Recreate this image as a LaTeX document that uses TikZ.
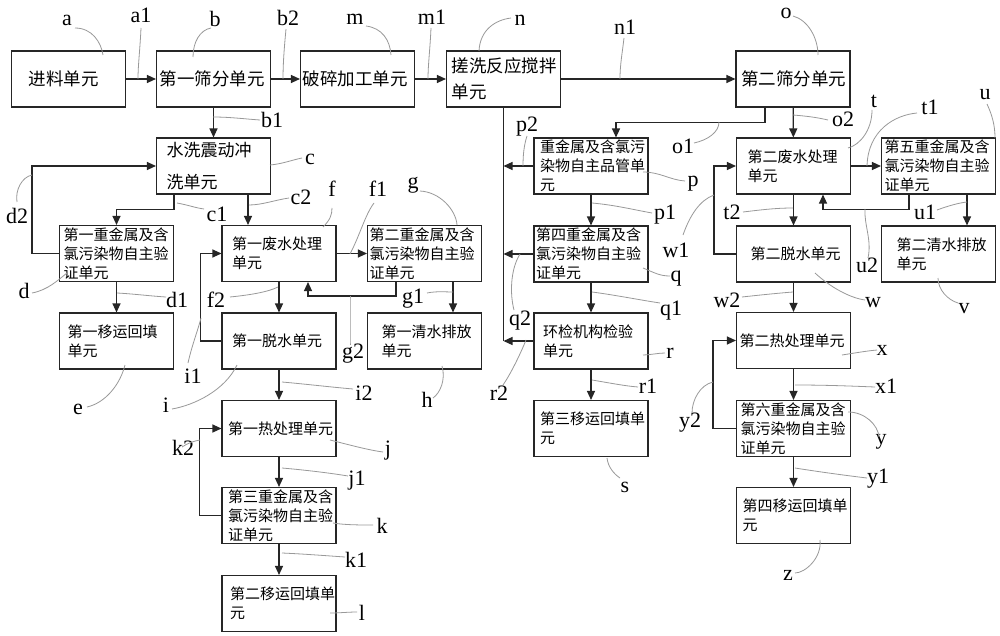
\documentclass[tikz,border=0pt]{standalone}
\usepackage{fontspec}
\setmainfont{Liberation Serif}
\newfontfamily\cjk{Noto Sans CJK SC}
\usetikzlibrary{arrows.meta}
\tikzset{
  ub/.style={draw=black!85, line width=1.1pt, minimum width=114pt, minimum height=56pt,
    inner ysep=0pt, align=left, font=\cjk\fontsize{15}{19}\selectfont},
  big/.style={font=\cjk\fontsize{17.5}{26}\selectfont},
  arr/.style={draw=black!85, line width=1.2pt, -{Triangle[length=9pt,width=8pt]}},
  ln/.style={draw=black!85, line width=1.2pt},
  lab/.style={font=\fontsize{22}{22}\selectfont, anchor=base, inner sep=0pt},
  lead/.style={draw=black!40, line width=0.8pt},
}
\begin{document}
\begin{tikzpicture}[x=1pt,y=-1pt]
\useasboundingbox (0,0) rectangle (1000,636);
\fill[white] (0,0) rectangle (1000,636);
% ---------- boxes ----------
\node[ub,big,inner xsep=17pt,text width=80pt] (a) at (68.5,79) {进料单元};
\node[ub,big,inner xsep=3pt,text width=108pt] (b) at (213.5,79) {第一筛分单元};
\node[ub,big,inner xsep=2pt,text width=110pt] (m) at (357.5,79) {破碎加工单元};
\node[ub,big,inner xsep=5pt,text width=104pt] (n) at (503.5,79) {搓洗反应搅拌\\单元};
\node[ub,big,inner xsep=5pt,text width=104pt] (o) at (793,79) {第二筛分单元};
\node[ub,inner xsep=10pt,text width=94pt,font=\cjk\fontsize{17}{32}\selectfont] (c) at (213.5,166) {水洗震动冲\\洗单元};
\node[ub,inner xsep=4pt,text width=106pt] (d) at (116.5,253.5) {第一重金属及含\\氯污染物自主验\\证单元};
\node[ub,inner xsep=8pt,text width=98pt] (e) at (116.5,341) {第一移运回填\\单元};
\node[ub,inner xsep=10pt,text width=94pt] (f) at (279,253.5) {第一废水处理\\单元};
\node[ub,inner xsep=2pt,text width=110pt] (g) at (424.5,253.5) {第二重金属及含\\氯污染物自主验\\证单元};
\node[ub,inner xsep=10pt,text width=94pt] (i) at (279,341) {第一脱水单元};
\node[ub,inner xsep=14pt,text width=86pt] (h) at (424.5,341) {第一清水排放\\单元};
\node[ub,inner xsep=6pt,text width=102pt] (j) at (279,428.5) {第一热处理单元};
\node[ub,inner xsep=6pt,text width=102pt] (k) at (279,515.5) {第三重金属及含\\氯污染物自主验\\证单元};
\node[ub,inner xsep=8pt,text width=98pt] (l) at (279,603.5) {第二移运回填单\\元};
\node[ub,inner xsep=6pt,text width=102pt] (p) at (591,166) {重金属及含氯污\\染物自主品管单\\元};
\node[ub,inner xsep=2pt,text width=110pt] (q) at (591,254) {第四重金属及含\\氯污染物自主验\\证单元};
\node[ub,inner xsep=9pt,text width=96pt] (r) at (591,341) {环检机构检验\\单元};
\node[ub,inner xsep=6pt,text width=102pt] (s) at (591,428.5) {第三移运回填单\\元};
\node[ub,inner xsep=11pt,text width=92pt] (t) at (793.5,166) {第二废水处理\\单元};
\node[ub,inner xsep=3pt,text width=108pt] (u) at (938.5,166) {第五重金属及含\\氯污染物自主验\\证单元};
\node[ub,inner xsep=14pt,text width=86pt] (w) at (793.5,254) {第二脱水单元};
\node[ub,inner xsep=15pt,text width=84pt] (v) at (938.5,254) {第二清水排放\\单元};
\node[ub,inner xsep=3pt,text width=108pt] (x) at (793.5,340.5) {第二热处理单元};
\node[ub,inner xsep=4pt,text width=106pt] (y) at (793.5,428.5) {第六重金属及含\\氯污染物自主验\\证单元};
\node[ub,inner xsep=6pt,text width=102pt] (z) at (793.5,515.5) {第四移运回填单\\元};
% ---------- helper x coordinates ----------
\coordinate (cdx) at (174,0);
\coordinate (cfx) at (248,0);
\coordinate (ghx) at (453,0);
\coordinate (g2x) at (396,0);
\coordinate (f2x) at (308,0);
\coordinate (o1x) at (765,0);
\coordinate (p1x) at (616,0);
\coordinate (uvx) at (967,0);
\coordinate (u2x) at (909,0);
\coordinate (t2x) at (823,0);
% ---------- connectors ----------
\draw[arr] (a) -- (b);
\draw[arr] (b) -- (m);
\draw[arr] (m) -- (n);
\draw[arr] (n) -- (o);
\draw[arr] (b) -- (c);
\draw[arr] (c.south -| cdx) -- ++(0,15) -| (d.north);
\draw[arr] (c.south -| cfx) -- (f.north -| cfx);
\draw[arr] (d.west) -- ++(-27,0) |- (c.west);
\draw[arr] (d) -- (e);
\draw[arr] (f) -- (g);
\draw[arr] (f) -- (i);
\draw[arr] (g.south -| ghx) -- (h.north -| ghx);
\draw[arr] (g.south -| g2x) -- ++(0,14) -| (f.south -| f2x);
\draw[arr] (i.west) -- ++(-21,0) |- (f.west);
\draw[arr] (i) -- (j);
\draw[arr] (j) -- (k);
\draw[arr] (k) -- (l);
\draw[arr] (k.west) -- ++(-22,0) |- (j.west);
\draw[ln] (n.south) -- (n.south |- r.west);
\draw[arr] (p.west) -- (n.south |- p.west);
\draw[arr] (q.west) -- (n.south |- q.west);
\draw[arr] (r.west) -- (n.south |- r.west);
\draw[arr] (p) -- (q);
\draw[arr] (q) -- (r);
\draw[arr] (r) -- (s);
\draw[arr] (o) -- (t);
\draw[arr] (o.south -| o1x) -- ++(0,15) -| (p.north -| p1x);
\draw[arr] (t) -- (u);
\draw[arr] (u.south -| uvx) -- (v.north -| uvx);
\draw[arr] (u.south -| u2x) -- ++(0,15) -| (t.south -| t2x);
\draw[arr] (t) -- (w);
\draw[arr] (w) -- (x);
\draw[arr] (x) -- (y);
\draw[arr] (y) -- (z);
\draw[arr] (w.west) -- ++(-22,0) |- (t.west);
\draw[arr] (y.west) -- ++(-23,0) |- (x.west);
% ---------- labels ----------
\node[lab] (La) at (67,26) {a};
\node[lab] (La1) at (141,23) {a1};
\node[lab] (Lb) at (215,27) {b};
\node[lab] (Lb2) at (288,26) {b2};
\node[lab] (Lm) at (355,25) {m};
\node[lab] (Lm1) at (432,25) {m1};
\node[lab] (Ln) at (520,26) {n};
\node[lab] (Ln1) at (625,35) {n1};
\node[lab] (Lo) at (786,19) {o};
\node[lab] (Lo2) at (843,127) {o2};
\node[lab] (Lo1) at (683,154) {o1};
\node[lab] (Lt) at (874,108) {t};
\node[lab] (Lt1) at (930,115) {t1};
\node[lab] (Lu) at (985,100) {u};
\node[lab] (Lp2) at (527,132) {p2};
\node[lab] (Lp) at (693,187) {p};
\node[lab] (Lp1) at (665,220) {p1};
\node[lab] (Lw1) at (676,257) {w1};
\node[lab] (Lq) at (676,281) {q};
\node[lab] (Lq1) at (671,315) {q1};
\node[lab] (Lq2) at (520,325) {q2};
\node[lab] (Lr) at (670,358) {r};
\node[lab] (Lr1) at (648,393) {r1};
\node[lab] (Lr2) at (499,400) {r2};
\node[lab] (Ls) at (625,492) {s};
\node[lab] (Lc) at (310,165) {c};
\node[lab] (Lb1) at (272,128) {b1};
\node[lab] (Ld2) at (17,223) {d2};
\node[lab] (Lc1) at (217,222) {c1};
\node[lab] (Ld) at (24,298) {d};
\node[lab] (Ld1) at (177,307) {d1};
\node[lab] (Lf2) at (216,307) {f2};
\node[lab] (Li1) at (193,383) {i1};
\node[lab] (Le) at (78,414) {e};
\node[lab] (Li) at (166,412) {i};
\node[lab] (Lc2) at (301,205) {c2};
\node[lab] (Lf) at (332,197) {f};
\node[lab] (Lf1) at (378,197) {f1};
\node[lab] (Lg) at (413,189) {g};
\node[lab] (Lg1) at (413,303) {g1};
\node[lab] (Lg2) at (353,358) {g2};
\node[lab] (Lh) at (427,407) {h};
\node[lab] (Li2) at (364,400) {i2};
\node[lab] (Lj) at (388,455) {j};
\node[lab] (Lj1) at (357,485) {j1};
\node[lab] (Lk) at (382,533) {k};
\node[lab] (Lk1) at (356,567) {k1};
\node[lab] (Ll) at (362,620) {l};
\node[lab] (Lk2) at (183,455) {k2};
\node[lab] (Lt2) at (732,220) {t2};
\node[lab] (Lu1) at (925,220) {u1};
\node[lab] (Lu2) at (867,272) {u2};
\node[lab] (Lw) at (873,307) {w};
\node[lab] (Lv) at (964,313) {v};
\node[lab] (Lw2) at (727,307) {w2};
\node[lab] (Lx) at (882,355) {x};
\node[lab] (Lx1) at (886,393) {x1};
\node[lab] (Ly2) at (690,427) {y2};
\node[lab] (Ly) at (881,444) {y};
\node[lab] (Ly1) at (878,483) {y1};
\node[lab] (Lz) at (788,580) {z};
% ---------- leaders ----------
\draw[lead] (75,28) .. controls (92,28) and (101,42) .. (103,55);
\draw[lead] (141,28) .. controls (140,50) and (138,65) .. (138,79);
\draw[lead] (211,28) .. controls (200,30) and (193,42) .. (193,57);
\draw[lead] (286,29) .. controls (284,50) and (283,65) .. (283,79);
\draw[lead] (366,26) .. controls (382,28) and (390,40) .. (391,55);
\draw[lead] (431,28) .. controls (430,50) and (428,65) .. (428,79);
\draw[lead] (511,18) .. controls (495,20) and (480,30) .. (479,51);
\draw[lead] (624,38) .. controls (622,55) and (620,65) .. (620,79);
\draw[lead] (793,16) .. controls (808,20) and (818,38) .. (818,55);
\draw[lead] (828,120) .. controls (815,117) and (805,116) .. (793,115);
\draw[lead] (694,143) .. controls (708,140) and (719,132) .. (719,122);
\draw[lead] (872,110) .. controls (872,130) and (860,145) .. (848,148);
\draw[lead] (917,113) .. controls (895,115) and (868,130) .. (867,166);
\draw[lead] (987,104) .. controls (992,115) and (995,125) .. (995,138);
\draw[lead] (527,136) .. controls (524,145) and (523,155) .. (523,166);
\draw[lead] (643,172) .. controls (660,172) and (670,180) .. (685,181);
\draw[lead] (592,203) .. controls (615,205) and (635,210) .. (652,213);
\draw[lead] (683,235) .. controls (690,215) and (700,200) .. (714,195);
\draw[lead] (643,268) .. controls (655,273) and (660,276) .. (670,276);
\draw[lead] (592,292) .. controls (615,295) and (640,300) .. (660,303);
\draw[lead] (520,254) .. controls (510,270) and (510,295) .. (514,310);
\draw[lead] (643,355) .. controls (650,355) and (658,353) .. (665,353);
\draw[lead] (592,380) .. controls (610,383) and (625,386) .. (638,387);
\draw[lead] (526,340) .. controls (520,355) and (510,375) .. (503,385);
\draw[lead] (607,458) .. controls (608,467) and (614,474) .. (620,478);
\draw[lead] (743,212) .. controls (760,210) and (775,208) .. (793,208);
\draw[lead] (937,210) .. controls (948,206) and (958,203) .. (967,202);
\draw[lead] (868,258) .. controls (872,240) and (864,225) .. (865,209);
\draw[lead] (815,273) .. controls (830,287) and (850,298) .. (865,300);
\draw[lead] (938,278) .. controls (938,290) and (948,300) .. (958,303);
\draw[lead] (742,297) .. controls (760,295) and (780,293) .. (793,292);
\draw[lead] (842,355) .. controls (855,353) and (866,351) .. (877,350);
\draw[lead] (795,385) .. controls (825,385) and (850,386) .. (875,387);
\draw[lead] (692,413) .. controls (692,400) and (700,385) .. (713,382);
\draw[lead] (848,412) .. controls (865,412) and (878,425) .. (879,437);
\draw[lead] (795,468) .. controls (820,472) and (850,476) .. (867,478);
\draw[lead] (820,540) .. controls (822,558) and (805,573) .. (795,573);
\draw[lead] (270,165) .. controls (282,164) and (292,160) .. (302,158);
\draw[lead] (213,117) .. controls (230,117) and (245,119) .. (260,120);
\draw[lead] (177,203) .. controls (188,205) and (196,208) .. (204,209);
\draw[lead] (249,205) .. controls (262,205) and (275,200) .. (289,198);
\draw[lead] (17,202) .. controls (15,190) and (22,177) .. (32,175);
\draw[lead] (32,293) .. controls (48,290) and (58,280) .. (67,273);
\draw[lead] (117,293) .. controls (135,294) and (150,296) .. (166,297);
\draw[lead] (125,365) .. controls (120,385) and (105,403) .. (87,407);
\draw[lead] (323,227) .. controls (330,220) and (332,215) .. (332,208);
\draw[lead] (350,254) .. controls (360,235) and (365,215) .. (374,203);
\draw[lead] (420,191) .. controls (440,192) and (456,210) .. (457,225);
\draw[lead] (230,297) .. controls (250,295) and (268,292) .. (278,287);
\draw[lead] (427,293) .. controls (437,291) and (445,292) .. (453,292);
\draw[lead] (350,345) .. controls (350,330) and (350,310) .. (350,296);
\draw[lead] (188,363) .. controls (192,345) and (198,330) .. (201,318);
\draw[lead] (237,365) .. controls (225,390) and (195,405) .. (172,409);
\draw[lead] (282,382) .. controls (305,384) and (330,387) .. (353,389);
\draw[lead] (442,366) .. controls (446,380) and (440,393) .. (433,398);
\draw[lead] (330,440) .. controls (350,445) and (368,450) .. (383,452);
\draw[lead] (282,468) .. controls (305,470) and (330,473) .. (348,476);
\draw[lead] (333,523) .. controls (345,525) and (360,525) .. (373,525);
\draw[lead] (282,553) .. controls (305,554) and (330,556) .. (345,557);
\draw[lead] (182,447) .. controls (188,443) and (194,441) .. (200,440);
\draw[lead] (330,613) .. controls (340,613) and (348,612) .. (357,612);
\end{tikzpicture}
\end{document}
